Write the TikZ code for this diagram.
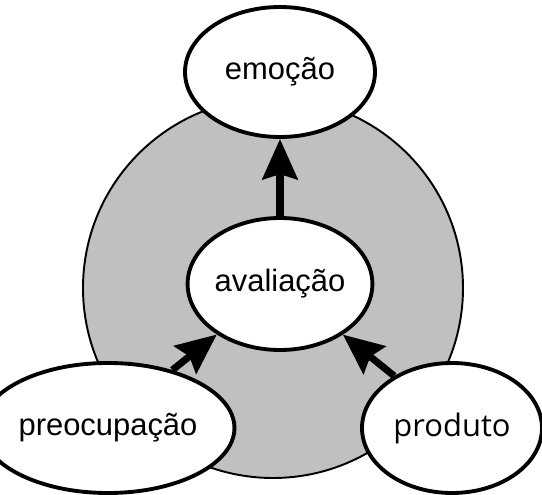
\documentclass[tikz,border=0pt]{standalone}
\usepackage{fontspec}
\setmainfont{Liberation Sans}
\newfontfamily\prodfont{Open Sans}
\usetikzlibrary{shapes.geometric,arrows.meta}
\definecolor{ringgray}{HTML}{C0C0C0}
\begin{document}
\begin{tikzpicture}[
  every node/.style={font=\fontsize{17.6}{20}\selectfont},
  bubble/.style={ellipse, draw, line width=2.2pt, fill=white, inner sep=0pt},
  flow/.style={line width=4pt, -{Stealth[length=23pt,width=20pt,inset=3pt]}}]
  \useasboundingbox (0,0) rectangle (10.84,-9.9);

  % Gray disc behind
  \draw[fill=ringgray, line width=1.1pt] (5.46,-5.76) circle (3.8);

  % Ellipses
  \node[bubble, minimum width=3.8cm, minimum height=2.6cm] (emo) at (5.6,-1.44) {emoção};
  \node[bubble, minimum width=3.32cm, minimum height=2.64cm] (aval) at (5.6,-5.68) {avaliação};
  \node[bubble, minimum width=3.8cm, minimum height=2.6cm] (preo) at (2.16,-8.56) {preocupação};
  \node[bubble, minimum width=3.6cm, minimum height=2.6cm] (prod) at (9.04,-8.56) {\prodfont produto};

  % Arrows
  \draw[flow] (aval) -- (emo);
  \draw[flow] (preo.42) -- (aval);
  \draw[flow] (prod.138) -- (aval);
\end{tikzpicture}
\end{document}
